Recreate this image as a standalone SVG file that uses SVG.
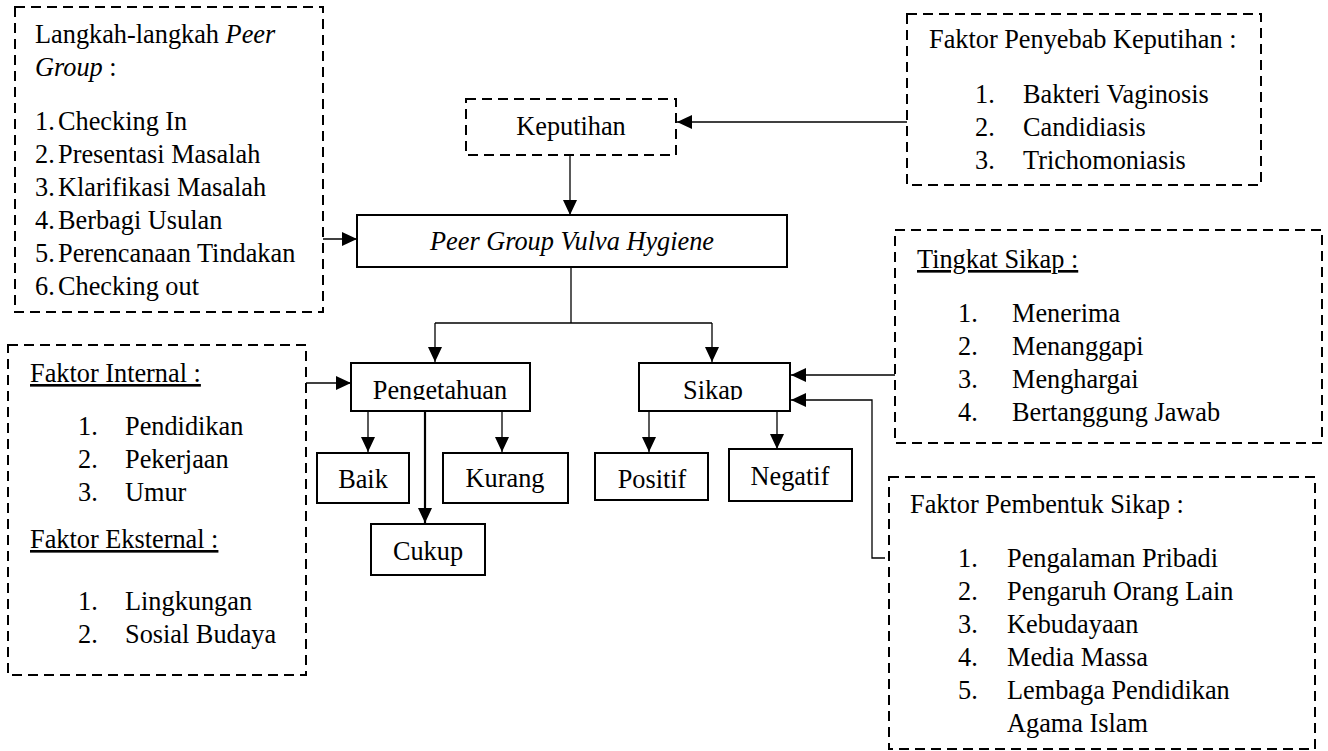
<svg xmlns="http://www.w3.org/2000/svg" width="1328" height="751" viewBox="0 0 1328 751">
<style>
text{font-family:"Liberation Serif","Times New Roman",serif;font-size:26.3px;fill:#000}
.dash{fill:#fff;stroke:#000;stroke-width:2;stroke-dasharray:10 6}
.box{fill:#fff;stroke:#000;stroke-width:2}
.c{fill:none;stroke:#000;stroke-width:1.3}
.mid{text-anchor:middle}
.u{text-decoration:underline}
</style>
<defs>
<marker id="ah" markerUnits="userSpaceOnUse" markerWidth="15" markerHeight="14" refX="15" refY="7" orient="auto">
<path d="M0,0 L15,7 L0,14 Z" fill="#000"/>
</marker>
<clipPath id="clipP"><rect x="340" y="360" width="200" height="40"/></clipPath>
<clipPath id="clipS"><rect x="630" y="360" width="170" height="40"/></clipPath>
</defs>

<g id="connectors">
<line class="c" x1="907" y1="122" x2="677" y2="122" marker-end="url(#ah)"/>
<line class="c" x1="570" y1="156" x2="570" y2="215" marker-end="url(#ah)"/>
<line class="c" x1="323" y1="239" x2="357" y2="239" marker-end="url(#ah)"/>
<polyline class="c" points="571,267 571,323"/>
<polyline class="c" points="435,323 712,323"/>
<line class="c" x1="435" y1="323" x2="435" y2="362" marker-end="url(#ah)"/>
<line class="c" x1="712" y1="323" x2="712" y2="362" marker-end="url(#ah)"/>
<line class="c" x1="306" y1="383" x2="351" y2="383" marker-end="url(#ah)"/>
<line class="c" x1="368" y1="412" x2="368" y2="452" marker-end="url(#ah)"/>
<line class="c" x1="502" y1="412" x2="502" y2="452" marker-end="url(#ah)"/>
<line fill="none" stroke="#000" stroke-width="2.2" x1="425" y1="408" x2="425" y2="523" marker-end="url(#ah)"/>
<line class="c" x1="649" y1="412" x2="649" y2="452" marker-end="url(#ah)"/>
<line class="c" x1="777" y1="412" x2="777" y2="449" marker-end="url(#ah)"/>
<line class="c" x1="895" y1="375" x2="791" y2="375" marker-end="url(#ah)"/>
<polyline class="c" points="885,558 872,558 872,400 791,400" marker-end="url(#ah)"/>
</g>

<g id="langkah">
<rect class="dash" x="15" y="7" width="308" height="305"/>
<text x="35" y="43">Langkah-langkah <tspan font-style="italic">Peer</tspan></text>
<text x="35" y="76"><tspan font-style="italic">Group</tspan> :</text>
<text x="35" y="130">1.</text><text x="58" y="130">Checking In</text>
<text x="35" y="163">2.</text><text x="58" y="163">Presentasi Masalah</text>
<text x="35" y="196">3.</text><text x="58" y="196">Klarifikasi Masalah</text>
<text x="35" y="229">4.</text><text x="58" y="229">Berbagi Usulan</text>
<text x="35" y="262">5.</text><text x="58" y="262">Perencanaan Tindakan</text>
<text x="35" y="295">6.</text><text x="58" y="295">Checking out</text>
</g>

<g id="keputihan">
<rect class="dash" x="466" y="99" width="210" height="56"/>
<text class="mid" x="571" y="135">Keputihan</text>
</g>

<g id="penyebab">
<rect class="dash" x="907" y="14" width="354" height="171"/>
<text x="929" y="48">Faktor Penyebab Keputihan :</text>
<text x="975" y="103">1.</text><text x="1023" y="103">Bakteri Vaginosis</text>
<text x="975" y="136">2.</text><text x="1023" y="136">Candidiasis</text>
<text x="975" y="169">3.</text><text x="1023" y="169">Trichomoniasis</text>
</g>

<g id="peergroup">
<rect class="box" x="357" y="215" width="430" height="52"/>
<text class="mid" x="572" y="250" font-style="italic">Peer Group Vulva Hygiene</text>
</g>

<g id="tingkat">
<rect class="dash" x="895" y="230" width="427" height="213"/>
<text class="u" x="917" y="268">Tingkat Sikap :</text>
<text x="958" y="322">1.</text><text x="1012" y="322">Menerima</text>
<text x="958" y="355">2.</text><text x="1012" y="355">Menanggapi</text>
<text x="958" y="388">3.</text><text x="1012" y="388">Menghargai</text>
<text x="958" y="421">4.</text><text x="1012" y="421">Bertanggung Jawab</text>
</g>

<g id="internal">
<rect class="dash" x="8" y="345" width="298" height="330"/>
<text class="u" x="30" y="382">Faktor Internal :</text>
<text x="78" y="435">1.</text><text x="125" y="435">Pendidikan</text>
<text x="78" y="468">2.</text><text x="125" y="468">Pekerjaan</text>
<text x="78" y="501">3.</text><text x="125" y="501">Umur</text>
<text class="u" x="30" y="548">Faktor Eksternal :</text>
<text x="78" y="610">1.</text><text x="125" y="610">Lingkungan</text>
<text x="78" y="643">2.</text><text x="125" y="643">Sosial Budaya</text>
</g>

<g id="pengetahuan">
<rect class="box" x="351" y="363" width="179" height="48"/>
<text class="mid" x="440" y="399" clip-path="url(#clipP)">Pengetahuan</text>
</g>

<g id="sikap">
<rect class="box" x="639" y="363" width="151" height="48"/>
<text class="mid" x="713" y="399" clip-path="url(#clipS)">Sikap</text>
</g>

<g id="baik">
<rect class="box" x="317" y="453" width="92" height="50"/>
<text class="mid" x="363" y="488">Baik</text>
</g>

<g id="kurang">
<rect class="box" x="443" y="453" width="125" height="50"/>
<text class="mid" x="505" y="487">Kurang</text>
</g>

<g id="cukup">
<rect class="box" x="371" y="524" width="114" height="51"/>
<text class="mid" x="428" y="560">Cukup</text>
</g>

<g id="positif">
<rect class="box" x="595" y="453" width="113" height="47"/>
<text class="mid" x="652" y="488">Positif</text>
</g>

<g id="negatif">
<rect class="box" x="729" y="449" width="123" height="52"/>
<text class="mid" x="790" y="485">Negatif</text>
</g>

<g id="pembentuk">
<rect class="dash" x="889" y="477" width="426" height="272"/>
<text x="910" y="513">Faktor Pembentuk Sikap :</text>
<text x="958" y="567">1.</text><text x="1007" y="567">Pengalaman Pribadi</text>
<text x="958" y="600">2.</text><text x="1007" y="600">Pengaruh Orang Lain</text>
<text x="958" y="633">3.</text><text x="1007" y="633">Kebudayaan</text>
<text x="958" y="666">4.</text><text x="1007" y="666">Media Massa</text>
<text x="958" y="699">5.</text><text x="1007" y="699">Lembaga Pendidikan</text>
<text x="1007" y="732">Agama Islam</text>
</g>
</svg>
